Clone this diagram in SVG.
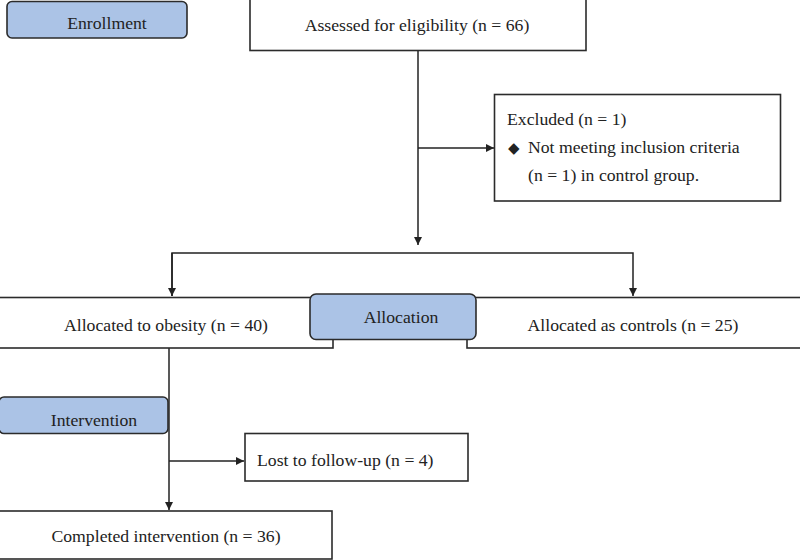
<svg xmlns="http://www.w3.org/2000/svg" width="800" height="560" viewBox="0 0 800 560">
<defs>
<style>
.box{fill:#fff;stroke:#2b2b2b;stroke-width:1.6}
.stage{fill:#abc3e6;stroke:#2b2b2b;stroke-width:1.6}
.t{font-family:"Liberation Serif","Times New Roman",serif;font-size:17.7px;fill:#222}
.c{text-anchor:middle}
.ln{fill:none;stroke:#222;stroke-width:1.5}
</style>
<marker id="ah" viewBox="0 0 10 10" refX="10" refY="5" markerWidth="8" markerHeight="8" markerUnits="userSpaceOnUse" orient="auto">
<path d="M0,0 L10,5 L0,10 z" fill="#222"/>
</marker>
</defs>
<rect width="800" height="560" fill="#fff"/>
<g id="connectors">
<line class="ln" x1="418" y1="50" x2="418" y2="245" marker-end="url(#ah)"/>
<line class="ln" x1="418" y1="148" x2="494" y2="148" marker-end="url(#ah)"/>
<polyline class="ln" points="172,296 172,253 633,253 633,296" marker-end="url(#ah)"/>
<line class="ln" x1="172" y1="253" x2="172" y2="296" marker-end="url(#ah)"/>
<line class="ln" x1="169" y1="348" x2="169" y2="510" marker-end="url(#ah)"/>
<line class="ln" x1="169" y1="461" x2="244" y2="461" marker-end="url(#ah)"/>
</g>
<g id="enrollment">
<rect class="stage" x="7" y="1.5" width="180" height="36.5" rx="5"/>
<text class="t c" x="107" y="29">Enrollment</text>
</g>
<g id="assessed">
<rect class="box" x="250" y="-1" width="336" height="51.5"/>
<text class="t c" x="417" y="31">Assessed for eligibility (n = 66)</text>
</g>
<g id="excluded">
<rect class="box" x="494.5" y="94.5" width="286" height="106.5"/>
<text class="t" x="507" y="125">Excluded (n = 1)</text>
<text class="t" x="508" y="153"><tspan font-family="DejaVu Sans" font-size="15">◆</tspan><tspan x="528">Not meeting inclusion criteria</tspan></text>
<text class="t" x="528" y="181">(n = 1) in control group.</text>
</g>
<g id="obesity">
<rect class="box" x="-1" y="297.5" width="334" height="50.5"/>
<text class="t c" x="166" y="331">Allocated to obesity (n = 40)</text>
</g>
<g id="controls">
<rect class="box" x="467" y="297.5" width="334" height="50.5"/>
<text class="t c" x="633" y="331">Allocated as controls (n = 25)</text>
</g>
<g id="allocation">
<rect class="stage" x="310" y="294" width="166" height="45.5" rx="6"/>
<text class="t c" x="401" y="323">Allocation</text>
</g>
<g id="intervention">
<rect class="stage" x="-1" y="397" width="169" height="36.5" rx="5"/>
<text class="t c" x="94" y="426">Intervention</text>
</g>
<g id="lost">
<rect class="box" x="245" y="433.5" width="223" height="47.5"/>
<text class="t" x="257" y="466">Lost to follow-up (n = 4)</text>
</g>
<g id="completed">
<rect class="box" x="-1" y="511" width="333" height="48"/>
<text class="t c" x="166" y="542">Completed intervention (n = 36)</text>
</g>
</svg>
